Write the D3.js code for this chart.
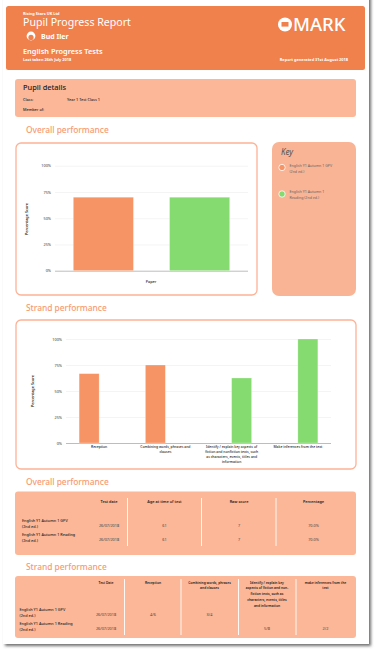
<!DOCTYPE html>
<html>
<head>
<meta charset="utf-8">
<script src="https://cdn.jsdelivr.net/npm/d3@7"></script>
<style>
  html, body { margin: 0; padding: 0; background: #fff; overflow: hidden; }
  svg { display: block; }
  text { font-family: "Noto Sans", sans-serif; }
</style>
</head>
<body>
<script>
const papers = ['English Y1 Autumn 1 GPV (2nd ed.)', 'English Y1 Autumn 1 Reading (2nd ed.)']
const paperColors = ['#f79465', '#85db70']
const paperScores = [70, 70]

const strands = [
  'Reception',
  'Combining words, phrases and\nclauses',
  'Identify / explain key aspects of\nfiction and nonfiction texts, such\nas characters, events, titles and\ninformation',
  'Make inferences from the text'
]
const gpvScores = [66.7, 75, null, null]
const readingScores = [null, null, 62.5, 100]

const scoreTicks = [0, 25, 50, 75, 100]

const overallHeaders = ['Test date', 'Age at time of test', 'Raw score', 'Percentage']
const overallDates = ['26/07/2018', '26/07/2018']
const overallAges = ['61', '61']
const overallRaw = ['7', '7']
const overallPercent = ['70.0%', '70.0%']

const strandHeaders = [
  'Test Date',
  'Reception',
  'Combining words, phrases\nand clauses',
  'Identify / explain key\naspects of fiction and non-\nfiction texts, such as\ncharacters, events, titles\nand information',
  'make inferences from the\ntext'
]
const strandDates = ['26/07/2018', '26/07/2018']
const strandRow1 = ['4/6', '3/4', '', '']
const strandRow2 = ['', '', '5/8', '2/2']

const orange = '#f0804c'
const peach = '#fbb797'
const titleColor = '#f79a73'

const svg = d3.select('body')
  .append('svg')
  .attr('width', 378)
  .attr('height', 654)

const defs = svg.append('defs')
const shadow = defs.append('filter')
  .attr('id', 'shadow')
  .attr('x', '-5%').attr('y', '-5%')
  .attr('width', '112%').attr('height', '112%')
shadow.append('feDropShadow')
  .attr('dx', 2).attr('dy', 2)
  .attr('stdDeviation', 1.4)
  .attr('flood-color', '#555')
  .attr('flood-opacity', 0.85)

svg.append('rect')
  .attr('x', 3).attr('y', -10)
  .attr('width', 366).attr('height', 654)
  .attr('fill', '#fff')
  .attr('filter', 'url(#shadow)')

function label (root, x, y, str, size, opts = {}) {
  return root.append('text')
    .attr('x', x)
    .attr('y', y)
    .attr('font-size', size)
    .attr('font-weight', opts.weight || 400)
    .attr('font-style', opts.style || 'normal')
    .attr('text-anchor', opts.anchor || 'start')
    .attr('fill', opts.fill || '#222')
    .text(str)
}

function multiline (root, x, y, str, size, lineHeight, opts) {
  str.split('\n').forEach((line, i) => label(root, x, y + i * lineHeight, line, size, opts))
}

function box (x, y, w, h, fill, r = 3) {
  return svg.append('rect')
    .attr('x', x).attr('y', y)
    .attr('width', w).attr('height', h)
    .attr('rx', r)
    .attr('fill', fill)
}

drawHeader()
drawDetails()
drawOverall()
drawStrand()
drawOverallTable()
drawStrandTable()

function drawHeader () {
  box(6, 6, 359, 64, orange, 2.5)
  const white = { fill: '#fff' }
  label(svg, 23, 15, 'Rising Stars UK Ltd', 3.9, { ...white, weight: 700 })
  label(svg, 23, 25.5, 'Pupil Progress Report', 10.6, white)
  label(svg, 41, 39, 'Bud Iler', 7, { ...white, weight: 700 })
  label(svg, 23, 54, 'English Progress Tests', 7.4, { ...white, weight: 600 })
  label(svg, 23, 61, 'Last taken 26th July 2018', 3.9, { ...white, weight: 700 })
  label(svg, 348, 61, 'Report generated 31st August 2018', 3.9, { ...white, weight: 700, anchor: 'end' })

  // pupil icon
  svg.append('circle').attr('cx', 31).attr('cy', 36).attr('r', 4.4).attr('fill', '#fff')
  svg.append('ellipse').attr('cx', 31).attr('cy', 37.4).attr('rx', 2.6).attr('ry', 2.7).attr('fill', orange)

  // logo
  svg.append('circle').attr('cx', 285).attr('cy', 24.5).attr('r', 7).attr('fill', '#fff')
  svg.append('rect').attr('x', 281.5).attr('y', 22).attr('width', 7).attr('height', 4.6).attr('fill', orange)
  label(svg, 293, 31, 'MARK', 18.5, { ...white, weight: 500 })
}

function drawDetails () {
  box(15, 79, 341, 38, peach)
  label(svg, 23, 90, 'Pupil details', 7.4, { weight: 500 })
  label(svg, 23, 101, 'Class:', 3.8, { weight: 500 })
  label(svg, 67, 101, 'Year 1 Test Class 1', 3.8, { weight: 500 })
  label(svg, 23, 110.5, 'Member of:', 3.8, { weight: 500 })
  label(svg, 26, 133, 'Overall performance', 8.4, { fill: titleColor, weight: 500 })
}

function yAxis (root, scale, left, right, size) {
  const axis = d3.axisLeft(scale)
    .tickValues(scoreTicks)
    .tickFormat(d => d + '%')
    .tickSize(right - left)
    .tickPadding(4)

  const g = root.append('g')
    .attr('transform', `translate(${right}, 0)`)
    .call(axis)
  g.select('.domain').remove()
  g.selectAll('.tick line')
    .attr('stroke', d => d === 0 ? '#bdbdbd' : '#f1f1f1')
    .attr('stroke-width', d => d === 0 ? 1 : 0.8)
  g.selectAll('.tick text')
    .attr('font-size', size)
    .attr('font-family', '"Noto Sans", sans-serif')
    .attr('fill', '#333')
  return g
}

function frame (x, y, w, h) {
  svg.append('rect')
    .attr('x', x).attr('y', y)
    .attr('width', w).attr('height', h)
    .attr('rx', 5)
    .attr('fill', '#fff')
    .attr('stroke', '#fdb295')
    .attr('stroke-width', 1.3)
}

function yTitle (x, y) {
  svg.append('text')
    .attr('transform', `translate(${x}, ${y}) rotate(-90)`)
    .attr('text-anchor', 'middle')
    .attr('font-size', 3.8)
    .attr('font-weight', 600)
    .attr('fill', '#222')
    .text('Percentage Score')
}

function drawOverall () {
  frame(16, 143, 241, 152)

  const left = 55
  const right = 248
  const y = d3.scaleLinear().domain([0, 100]).range([270.7, 165.7])
  const x = d3.scaleBand()
    .domain(papers)
    .range([left, right])
    .paddingInner(0.375)
    .paddingOuter(0.19)

  yAxis(svg.append('g'), y, left, right, 3.8)

  svg.append('g')
    .selectAll('rect')
    .data(papers)
    .join('rect')
    .attr('x', d => x(d))
    .attr('y', (d, i) => y(paperScores[i]))
    .attr('width', x.bandwidth())
    .attr('height', (d, i) => y(0) - y(paperScores[i]))
    .attr('fill', (d, i) => paperColors[i])
    .attr('stroke', '#fff')
    .attr('stroke-opacity', 0.45)
    .attr('stroke-width', 0.6)

  yTitle(28, 219)
  label(svg, 151, 283, 'Paper', 3.8, { anchor: 'middle', weight: 500 })

  // key
  box(272, 142, 84, 154, '#f9b495', 7)
  label(svg, 281, 155, 'Key', 8, { style: 'italic', fill: '#555' })
  const legendY = d3.scalePoint().domain(papers).range([167.5, 194])
  const legendLines = ['English Y1 Autumn 1 GPV\n(2nd ed.)', 'English Y1 Autumn 1\nReading (2nd ed.)']
  papers.forEach((p, i) => {
    svg.append('circle')
      .attr('cx', 282)
      .attr('cy', legendY(p))
      .attr('r', 3.2)
      .attr('fill', paperColors[i])
      .attr('stroke', '#fff')
      .attr('stroke-width', 0.8)
    multiline(svg, 289.5, legendY(p) - 1, legendLines[i], 3.6, 6.3, { fill: '#666' })
  })
}

function drawStrand () {
  label(svg, 26, 311, 'Strand performance', 8.4, { fill: titleColor, weight: 500 })
  frame(16, 320, 340, 149)

  const left = 66
  const right = 331
  const y = d3.scaleLinear().domain([0, 100]).range([443, 339])
  const x = d3.scaleBand().domain(strands).range([left, right])
  const inner = d3.scaleBand()
    .domain([0, 1])
    .range([x.bandwidth() / 2 - 20, x.bandwidth() / 2 + 20])

  yAxis(svg.append('g'), y, left, right, 3.8)

  const series = [gpvScores, readingScores]
  series.forEach((values, s) => {
    svg.append('g')
      .selectAll('rect')
      .data(strands.filter((d, i) => values[i] !== null))
      .join('rect')
      .attr('x', d => x(d) + inner(s))
      .attr('y', d => y(values[strands.indexOf(d)]))
      .attr('width', inner.bandwidth())
      .attr('height', d => y(0) - y(values[strands.indexOf(d)]))
      .attr('fill', paperColors[s])
      .attr('stroke', '#fff')
      .attr('stroke-opacity', 0.45)
      .attr('stroke-width', 0.6)
  })

  strands.forEach(d => {
    multiline(svg, x(d) + x.bandwidth() / 2, 447.7, d, 3.4, 5, { anchor: 'middle', weight: 500 })
  })

  yTitle(34, 391)
}

function tableLines (xs, y0, y1) {
  svg.append('g')
    .selectAll('line')
    .data(xs)
    .join('line')
    .attr('x1', d => d).attr('x2', d => d)
    .attr('y1', y0).attr('y2', y1)
    .attr('stroke', '#fff')
    .attr('stroke-width', 0.9)
}

function drawOverallTable () {
  label(svg, 26, 485, 'Overall performance', 8.4, { fill: titleColor, weight: 500 })
  box(15, 491.5, 341, 63.5, peach)
  tableLines([127.5, 201.5, 276], 498, 546)

  const centers = [109, 164.5, 239, 313.5]
  overallHeaders.forEach((h, i) => {
    label(svg, centers[i], 503, h, 3.8, { anchor: 'middle', weight: 600 })
  })

  const rowY = [526.5, 540.5]
  const labelLines = ['English Y1 Autumn 1 GPV\n(2nd ed.)', 'English Y1 Autumn 1 Reading\n(2nd ed.)']
  rowY.forEach((y, r) => {
    multiline(svg, 22, y - 5, labelLines[r], 3.8, 6.5, { weight: 500 })
    const cells = [overallDates[r], overallAges[r], overallRaw[r], overallPercent[r]]
    cells.forEach((c, i) => {
      label(svg, centers[i], y, c, 3.8, { anchor: 'middle', fill: '#444' })
    })
  })
}

function drawStrandTable () {
  label(svg, 26, 570, 'Strand performance', 8.4, { fill: titleColor, weight: 500 })
  box(15, 576, 341, 62, peach)
  tableLines([124.5, 181, 238.5, 296], 579, 635)

  const centers = [106, 153, 209.5, 267, 325.5]
  strandHeaders.forEach((h, i) => {
    multiline(svg, centers[i], 583.5, h, 3.3, 5.8, { anchor: 'middle', weight: 600 })
  })

  const rowY = [615.5, 629.5]
  const labelLines = ['English Y1 Autumn 1 GPV\n(2nd ed.)', 'English Y1 Autumn 1 Reading\n(2nd ed.)']
  const rows = [strandRow1, strandRow2]
  rowY.forEach((y, r) => {
    multiline(svg, 19.5, y - 5, labelLines[r], 3.8, 6.5, { weight: 500 })
    label(svg, centers[0], y, strandDates[r], 3.8, { anchor: 'middle', fill: '#444' })
    rows[r].forEach((c, i) => {
      label(svg, centers[i + 1], y, c, 3.8, { anchor: 'middle', fill: '#444' })
    })
  })
}
</script>
</body>
</html>
